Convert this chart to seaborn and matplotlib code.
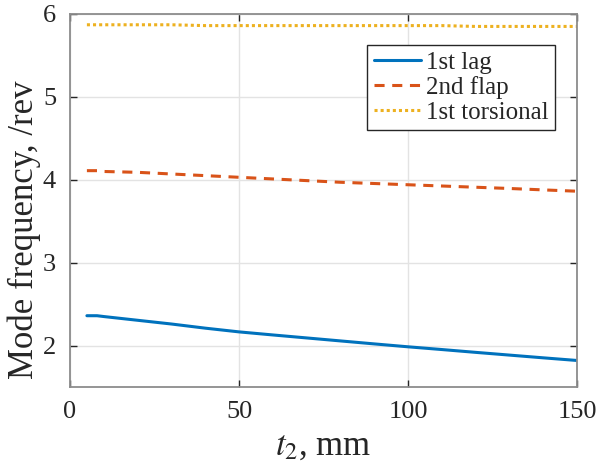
import numpy as np
import pandas as pd
import matplotlib
matplotlib.use("Agg")
import matplotlib.pyplot as plt
import seaborn as sns

t2 = [5, 8, 10, 20, 30, 40, 50, 60, 70, 80, 90, 100, 110, 120, 130, 140, 150]
lag1 = [2.36, 2.36, 2.35, 2.305, 2.26, 2.21, 2.165, 2.128, 2.092, 2.056, 2.02, 1.985, 1.952, 1.918, 1.885, 1.852, 1.82]
flap2 = [4.11, 4.11, 4.10, 4.09, 4.07, 4.05, 4.03, 4.01, 3.99, 3.97, 3.955, 3.94, 3.925, 3.91, 3.895, 3.878, 3.862]
tors1 = [5.87, 5.87, 5.87, 5.87, 5.87, 5.86, 5.86, 5.86, 5.86, 5.86, 5.86, 5.86, 5.86, 5.85, 5.85, 5.85, 5.85]
labels = ["1st lag", "2nd flap", "1st torsional"]
xticks = [0, 50, 100, 150]
yticks = [2, 3, 4, 5, 6]

df = pd.DataFrame({
    "t2": t2 * 3,
    "freq": lag1 + flap2 + tors1,
    "mode": [labels[0]] * len(t2) + [labels[1]] * len(t2) + [labels[2]] * len(t2),
})

sns.set_style("white")
plt.rcParams["font.family"] = ["Liberation Serif", "DejaVu Serif"]
plt.rcParams["mathtext.fontset"] = "stix"

fig = plt.figure(figsize=(6.11, 4.67), dpi=100)
L, R, T, B = 70, 577, 14, 387
ax = fig.add_axes([L / 611, 1 - B / 467, (R - L) / 611, (B - T) / 467])

palette = {labels[0]: "#0072BD", labels[1]: "#D95319", labels[2]: "#EDB120"}
sns.lineplot(data=df, x="t2", y="freq", hue="mode", style="mode",
             palette=palette, dashes={labels[0]: "", labels[1]: (3.3, 2.5), labels[2]: (1, 1)},
             linewidth=2.2, ax=ax, legend=False)

ax.set_xlim(0, 150)
ax.set_ylim(1.5, 6)
ax.set_xticks(xticks)
ax.set_yticks(yticks)
ax.grid(True, color="#e3e3e3", linewidth=1)
ax.tick_params(direction="in", length=5, width=1, colors="#262626", labelsize=19,
               top=True, right=True, bottom=True, left=True, pad=10)
for s in ax.spines.values():
    s.set_color("#8c8c8c")
    s.set_linewidth(1.3)
    s.set_visible(True)
ax.set_xlabel("$t_2$, mm", fontsize=25, color="#262626", labelpad=5)
ax.set_ylabel("Mode frequency, /rev", fontsize=25, color="#262626")
ax.yaxis.set_label_coords((41 - L) / (R - L), (B - 230) / (B - T))

handles = [
    plt.Line2D([], [], color="#0072BD", lw=2.2, ls="-"),
    plt.Line2D([], [], color="#D95319", lw=2.2, ls=(0, (3.3, 2.5))),
    plt.Line2D([], [], color="#EDB120", lw=2.2, ls=(0, (1, 1))),
]
leg = ax.legend(handles, labels, loc="upper right",
                bbox_to_anchor=((555 - L) / (R - L), (B - 45) / (B - T)),
                fontsize=18, frameon=True, fancybox=False, framealpha=1,
                edgecolor="#262626", handlelength=1.9, handletextpad=0.2,
                labelspacing=0.1, borderpad=0.25, borderaxespad=0)
leg.get_frame().set_linewidth(1)

fig.savefig("out.png", dpi=100)
